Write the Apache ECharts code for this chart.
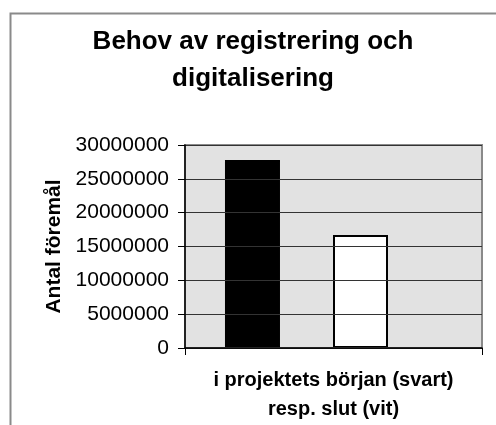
<!DOCTYPE html>
<html>
<head>
<meta charset="utf-8">
<script src="https://cdn.jsdelivr.net/npm/echarts@6/dist/echarts.min.js"></script>
<style>
html,body{margin:0;padding:0;background:#fff;}
#chart{width:496px;height:425px;}
</style>
</head>
<body>
<div id="chart"></div>
<script>
// ---- data ----
const titleText = "Behov av registrering och\ndigitalisering";
const categories = [""];
const seriesNames = ["i projektets början (svart)", "resp. slut (vit)"];
const startValues = [27800000];   // black bar
const endValues = [16700000];     // white bar
const yTicks = [0, 5000000, 10000000, 15000000, 20000000, 25000000, 30000000];
const yAxisTitle = "Antal föremål";
const xAxisTitle = "i projektets början (svart)\nresp. slut (vit)";

const FONT = "'Liberation Sans', Arial, sans-serif";
const chart = echarts.init(document.getElementById('chart'), null, {renderer: 'canvas'});

const option = {
  backgroundColor: '#ffffff',
  animation: false,
  graphic: [{
    type: 'rect', left: 8, top: 11, z: 100,
    shape: {width: 620, height: 600},
    style: {fill: 'none', stroke: '#8a8a8a', lineWidth: 2}
  }],
  title: {
    text: titleText,
    left: 253, top: 23, textAlign: 'center', padding: 0,
    textStyle: {fontFamily: FONT, fontSize: 26, fontWeight: 'bold', color: '#000', lineHeight: 37}
  },
  grid: [
    {left: 185, right: 14, top: 145, bottom: 77, show: true, backgroundColor: '#e2e2e2', borderWidth: 0, containLabel: false},
    {left: 185, right: 14, top: 145, bottom: 77, show: true, backgroundColor: 'transparent', borderColor: '#8a8a8a', borderWidth: 2, z: 5}
  ],
  xAxis: [{
    type: 'category', gridIndex: 0, data: categories,
    name: xAxisTitle, nameLocation: 'middle', nameGap: 18,
    nameTextStyle: {fontFamily: FONT, fontSize: 20, fontWeight: 'bold', color: '#000', lineHeight: 29},
    axisLine: {show: true, lineStyle: {color: '#000', width: 1.5}},
    axisTick: {show: true, length: 7, inside: false, lineStyle: {color: '#000'}},
    axisLabel: {show: false},
    z: 10
  }],
  yAxis: [{
    type: 'value', gridIndex: 0, min: yTicks[0], max: yTicks[yTicks.length - 1],
    interval: yTicks[1] - yTicks[0],
    name: yAxisTitle, nameLocation: 'middle', nameGap: 120, nameRotate: 90,
    nameTextStyle: {fontFamily: FONT, fontSize: 21, fontWeight: 'bold', color: '#000'},
    axisLine: {show: true, lineStyle: {color: '#000', width: 1.5}},
    axisTick: {show: true, length: 7, inside: false, lineStyle: {color: '#000'}},
    axisLabel: {fontFamily: FONT, fontSize: 21, color: '#000', margin: 16,
      formatter: function (v) { return String(v); }},
    splitLine: {show: true, lineStyle: {color: '#333', width: 1}},
    z: 10
  }],
  series: [
    {
      name: seriesNames[0], type: 'bar', data: startValues,
      barWidth: 55, barGap: '96.4%',
      itemStyle: {color: '#000', borderColor: '#000', borderWidth: 1.5}
    },
    {
      name: seriesNames[1], type: 'bar', data: endValues,
      barWidth: 55, barGap: '96.4%',
      itemStyle: {color: '#fff', borderColor: '#000', borderWidth: 2}
    },
    {
      name: 'spacer', type: 'bar', data: [null],
      barWidth: 1, barGap: '96.4%', silent: true,
      itemStyle: {color: 'transparent'}
    }
  ]
};
chart.setOption(option);
</script>
</body>
</html>
